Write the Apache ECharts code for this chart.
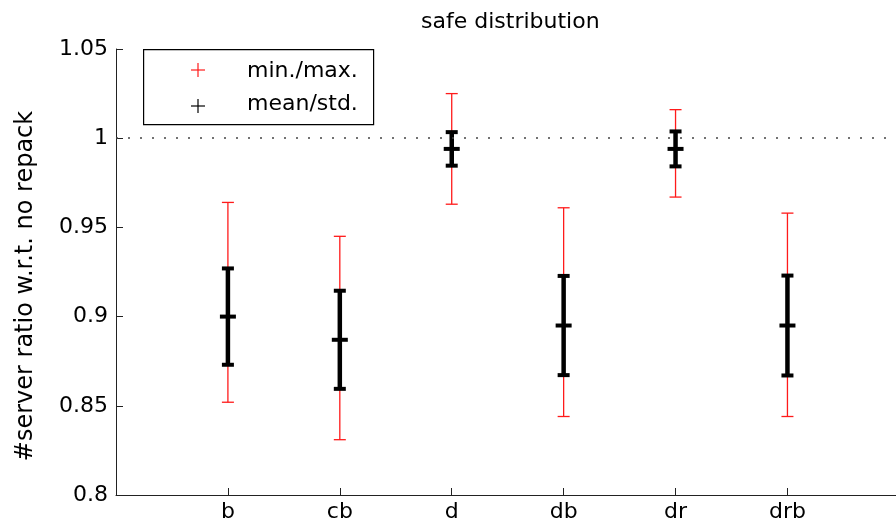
<!DOCTYPE html>
<html lang="en">
<head>
    <meta charset="UTF-8">
    <title>safe distribution</title>
    <script src="https://cdn.jsdelivr.net/npm/echarts@6/dist/echarts.min.js"></script>
    <style>
        html, body { margin: 0; padding: 0; background: #fff; }
        #chart { width: 896px; height: 528px; }
    </style>
</head>
<body>
<div id="chart"></div>
<script>
    // data
    var categories = ['b', 'cb', 'd', 'db', 'dr', 'drb'];
    var minVals  = [0.852, 0.831, 0.963, 0.844, 0.967, 0.844];
    var maxVals  = [0.964, 0.945, 1.025, 0.961, 1.016, 0.958];
    var meanVals = [0.900, 0.887, 0.994, 0.895, 0.994, 0.895];
    var stdVals  = [0.027, 0.0275, 0.0094, 0.0278, 0.0098, 0.028];
    var yTicks = [0.8, 0.85, 0.9, 0.95, 1, 1.05];
    var legendNames = ['min./max.', 'mean/std.'];

    var font = 'DejaVu Sans';

    var rangeData = [];
    var meanData = [];
    for (var i = 0; i < categories.length; i++) {
        rangeData.push([i + 1, minVals[i], maxVals[i]]);
        meanData.push([i + 1, meanVals[i], stdVals[i]]);
    }

    function seg(x1, y1, x2, y2, style) {
        return {type: 'line', shape: {x1: x1, y1: y1, x2: x2, y2: y2}, style: style};
    }

    var chart = echarts.init(document.getElementById('chart'));

    var option = {
        animation: false,
        title: {
            text: 'safe distribution',
            left: 416,
            top: 6,
            textStyle: {fontFamily: font, fontSize: 22, fontWeight: 'normal', color: '#000'}
        },
        // the plot runs on past the right edge of the picture (x = 7 is cut off)
        grid: {left: 116, right: 0, top: 49, bottom: 33},
        xAxis: {
            type: 'value',
            min: 0,
            max: 6.97,
            interval: 1,
            splitLine: {show: false},
            axisLine: {lineStyle: {color: '#222', width: 1}},
            axisTick: {inside: true, length: 7, lineStyle: {color: '#222'}},
            axisLabel: {
                margin: 6,
                fontFamily: font,
                fontSize: 22,
                color: '#000',
                showMaxLabel: false,
                formatter: function (v) {
                    return categories[Math.round(v) - 1] || '';
                }
            }
        },
        yAxis: {
            type: 'value',
            min: 0.8,
            max: 1.05,
            interval: 0.05,
            name: '#server ratio w.r.t. no repack',
            nameLocation: 'middle',
            nameGap: 78,
            nameTextStyle: {fontFamily: font, fontSize: 24, color: '#000', padding: [0, 28, 0, 0]},
            splitLine: {show: false},
            axisLine: {show: true, lineStyle: {color: '#222', width: 1}},
            axisTick: {show: true, inside: true, length: 7, lineStyle: {color: '#222'}},
            axisLabel: {
                margin: 8,
                fontFamily: font,
                fontSize: 22,
                color: '#000',
                formatter: function (v) {
                    var t = String(+v.toFixed(2));
                    return yTicks.indexOf(+t) >= 0 ? t : '';
                }
            }
        },
        series: [
            {
                name: legendNames[0],
                type: 'custom',
                data: rangeData,
                renderItem: function (params, api) {
                    var x = api.value(0);
                    var lo = api.coord([x, api.value(1)]);
                    var hi = api.coord([x, api.value(2)]);
                    var w = 6;
                    var st = {stroke: '#ff1a1a', lineWidth: 1.3};
                    return {
                        type: 'group',
                        children: [
                            seg(lo[0], lo[1], hi[0], hi[1], st),
                            seg(lo[0] - w, lo[1], lo[0] + w, lo[1], st),
                            seg(hi[0] - w, hi[1], hi[0] + w, hi[1], st)
                        ]
                    };
                },
                markLine: {
                    silent: true,
                    symbol: 'none',
                    label: {show: false},
                    lineStyle: {type: [2, 10], color: '#444', width: 1.5},
                    data: [{yAxis: 1}]
                }
            },
            {
                name: legendNames[1],
                type: 'custom',
                data: meanData,
                renderItem: function (params, api) {
                    var x = api.value(0);
                    var m = api.value(1);
                    var s = api.value(2);
                    var lo = api.coord([x, m - s]);
                    var hi = api.coord([x, m + s]);
                    var mid = api.coord([x, m]);
                    var st = {stroke: '#000', lineWidth: 4.5};
                    var cap = {stroke: '#000', lineWidth: 4};
                    return {
                        type: 'group',
                        children: [
                            seg(lo[0], lo[1], hi[0], hi[1], st),
                            seg(lo[0] - 6, lo[1], lo[0] + 6, lo[1], cap),
                            seg(hi[0] - 6, hi[1], hi[0] + 6, hi[1], cap),
                            seg(mid[0] - 8, mid[1], mid[0] + 8, mid[1], cap)
                        ]
                    };
                }
            }
        ],
        graphic: [
            {
                type: 'rect',
                left: 143,
                top: 49,
                shape: {width: 230, height: 75},
                style: {fill: '#fff', stroke: '#000', lineWidth: 1.2},
                z: 10
            },
            {type: 'line', shape: {x1: 191, y1: 70, x2: 205, y2: 70}, style: {stroke: '#ff1a1a', lineWidth: 1.2}, z: 11},
            {type: 'line', shape: {x1: 198, y1: 63, x2: 198, y2: 77}, style: {stroke: '#ff1a1a', lineWidth: 1.2}, z: 11},
            {type: 'line', shape: {x1: 191, y1: 106, x2: 205, y2: 106}, style: {stroke: '#000', lineWidth: 1.2}, z: 11},
            {type: 'line', shape: {x1: 198, y1: 99, x2: 198, y2: 113}, style: {stroke: '#000', lineWidth: 1.2}, z: 11},
            {
                type: 'text', left: 247, top: 60, z: 11,
                style: {text: legendNames[0], fontFamily: font, fontSize: 22, fill: '#000'}
            },
            {
                type: 'text', left: 247, top: 93, z: 11,
                style: {text: legendNames[1], fontFamily: font, fontSize: 22, fill: '#000'}
            }
        ]
    };

    chart.setOption(option);
</script>
</body>
</html>
